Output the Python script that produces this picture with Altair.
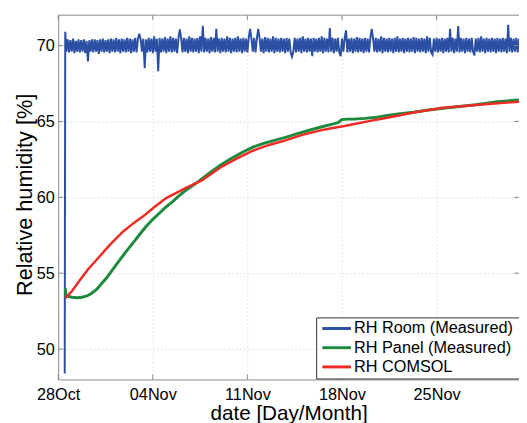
import altair as alt
import pandas as pd

# ---- data (days after 28 Oct 2012 00:00 UTC) ----
blue_lead_days = [0.48, 0.52]
blue_lead_vals = [48.4, 70.9]
blue_start = 0.6
blue_step = 0.1
blue_vals = [
    69.6, 70.4, 69.55, 70.35, 69.6, 70.45, 69.5, 70.3, 69.6, 70.4, 69.55, 70.35, 69.6, 70.4, 69.5, 70.3, 68.95, 70.35, 69.6, 70.4,
    69.55, 70.4, 69.6, 70.35, 69.45, 70.4, 69.6, 70.45, 69.55, 70.35, 69.6, 70.4, 69.5, 70.45, 69.6, 70.4, 69.55, 70.5, 69.6, 70.4,
    69.5, 70.45, 69.6, 70.4, 69.55, 70.5, 69.6, 70.45, 69.5, 70.4, 69.6, 70.5, 69.55, 70.45, 70.78, 70.4, 69.6, 70.45, 68.5, 70.4,
    69.55, 70.5, 69.6, 70.45, 69.5, 70.6, 69.6, 70.45, 68.3, 70.5, 69.55, 70.45, 69.6, 70.55, 69.5, 70.45, 69.6, 70.6, 69.55, 70.5,
    69.6, 70.45, 69.5, 70.5, 71.07, 70.45, 69.55, 70.5, 69.6, 70.45, 69.5, 70.6, 69.6, 70.5, 69.55, 70.45, 69.6, 70.5, 69.5, 70.6,
    69.6, 71.3, 69.55, 70.5, 69.6, 70.45, 69.5, 70.55, 69.6, 70.5, 69.55, 71.1, 69.6, 70.45, 69.5, 70.5, 69.6, 70.45, 69.55, 70.6,
    69.6, 70.5, 69.5, 70.45, 69.6, 70.5, 69.55, 70.6, 69.6, 70.45, 69.5, 70.5, 69.6, 70.45, 69.55, 70.5, 71.1, 70.45, 69.6, 70.5,
    69.55, 70.45, 71.1, 70.5, 69.6, 70.45, 69.5, 70.55, 69.6, 70.5, 69.55, 70.45, 69.6, 70.6, 69.5, 70.5, 69.6, 70.45, 69.55, 70.5,
    69.6, 70.45, 69.5, 70.5, 69.6, 70.45, 69.55, 69.26, 69.6, 70.5, 69.55, 70.45, 69.6, 70.5, 69.5, 70.6, 69.6, 70.45, 69.55, 70.5,
    69.6, 70.45, 69.3, 70.5, 69.6, 70.45, 69.55, 70.5, 69.6, 70.6, 69.5, 70.5, 69.6, 70.45, 69.55, 71.15, 69.6, 70.5, 69.5, 70.45,
    69.6, 70.5, 69.55, 69.3, 70.45, 69.6, 70.5, 71.0, 69.55, 70.45, 69.6, 70.5, 69.5, 70.45, 69.6, 70.55, 69.55, 70.5, 69.6, 70.45,
    69.5, 70.5, 69.6, 70.45, 69.55, 70.5, 71.1, 70.45, 69.6, 70.5, 69.55, 70.45, 69.6, 70.6, 69.5, 70.5, 69.6, 70.45, 69.55, 70.5,
    69.6, 70.45, 69.5, 70.5, 69.6, 70.6, 69.55, 70.45, 69.6, 70.5, 69.5, 70.45, 69.6, 70.5, 69.55, 70.45, 69.6, 70.55, 69.5, 70.5,
    69.6, 70.45, 69.55, 70.5, 69.6, 70.45, 69.5, 70.6, 69.6, 70.5, 69.55, 69.4, 70.45, 69.6, 70.5, 69.55, 70.45, 69.6, 70.5, 69.5,
    70.45, 69.6, 70.5, 69.55, 71.1, 69.6, 70.5, 69.5, 70.45, 69.6, 71.28, 69.55, 70.5, 69.6, 70.45, 69.5, 70.5, 69.6, 70.45, 69.55,
    70.5, 69.6, 69.35, 70.45, 69.6, 70.5, 69.55, 70.6, 69.6, 70.45, 69.5, 70.5, 69.6, 70.45, 69.55, 70.5, 69.6, 70.45, 69.5, 70.5,
    69.6, 70.45, 69.55, 70.5, 69.6, 70.45, 69.5, 71.37, 69.6, 70.5, 69.55, 70.45, 69.6, 70.5, 69.55, 70.45,
]

green_days = [0.52, 0.58, 0.70, 1.02, 1.41, 1.75, 2.13, 2.48, 2.86, 3.20,
              3.59, 4.08, 4.57, 5.05, 5.54, 6.02, 6.50, 7.00, 7.48, 7.96,
              8.45, 8.93, 9.42, 9.90, 10.39, 11.2, 11.97, 12.8, 13.6, 14.40,
              15.2, 16.0, 16.82, 17.7, 18.52, 19.1, 19.74, 20.3, 20.71, 20.98,
              21.4, 21.92, 22.7, 23.6, 24.35, 25.3, 26.3, 27.4, 28.48, 29.7,
              30.88, 32.5, 34.09]
green_vals = [54.0, 53.5, 53.48, 53.42, 53.38, 53.42, 53.5, 53.68, 53.95, 54.3,
              54.7, 55.3, 55.9, 56.45, 57.0, 57.55, 58.08, 58.55, 58.95, 59.35,
              59.7, 60.1, 60.45, 60.75, 61.05, 61.6, 62.1, 62.55, 62.95, 63.3,
              63.55, 63.75, 63.95, 64.2, 64.4, 64.55, 64.7, 64.82, 64.92, 65.12,
              65.15, 65.15, 65.2, 65.28, 65.4, 65.5, 65.6, 65.75, 65.86, 65.98,
              66.1, 66.3, 66.42]

red_days = [0.52, 1.0, 1.65, 2.2, 2.86, 3.8, 4.81, 5.5, 6.26, 7.1,
            7.96, 8.7, 9.42, 10.63, 11.97, 13.2, 14.40, 15.6, 16.82, 18.0,
            19.25, 20.2, 21.19, 22.0, 23.2, 24.35, 26.4, 28.48, 30.5, 32.3, 34.1]
red_vals = [53.35, 53.8, 54.6, 55.25, 55.9, 56.85, 57.75, 58.25, 58.73, 59.35,
            59.93, 60.28, 60.6, 61.12, 61.95, 62.55, 63.07, 63.45, 63.75, 64.1,
            64.38, 64.55, 64.7, 64.85, 65.05, 65.24, 65.6, 65.9, 66.05, 66.18, 66.3]

series_names = ["RH Room (Measured)", "RH Panel (Measured)", "RH COMSOL"]
series_colors = ["#2a4fa3", "#1d8a3e", "#ee2b24"]

x_tick_days = [0, 7, 14, 21, 28]
x_tick_labels = ["28Oct", "04Nov", "11Nov", "18Nov", "25Nov"]
y_ticks = [50, 55, 60, 65, 70]
x_domain_days = [0, 34.1]
y_domain = [48, 72]

# ---- helpers ----
T0 = pd.Timestamp("2012-10-28", tz="UTC")


def to_iso(d):
    return (T0 + pd.to_timedelta(d, unit="D")).strftime("%Y-%m-%dT%H:%M:%SZ")


def to_ms(d):
    return int((T0 + pd.to_timedelta(d, unit="D")).value // 1_000_000)


blue_days = blue_lead_days + [blue_start + blue_step * i for i in range(len(blue_vals))]
blue_all = blue_lead_vals + blue_vals

df_blue = pd.DataFrame({"t": [to_iso(d) for d in blue_days], "v": blue_all, "s": series_names[0]})
df_green = pd.DataFrame({"t": [to_iso(d) for d in green_days], "v": green_vals, "s": series_names[1]})
df_red = pd.DataFrame({"t": [to_iso(d) for d in red_days], "v": red_vals, "s": series_names[2]})
df_xt = pd.DataFrame({"t": [to_iso(d) for d in x_tick_days]})
df_yt = pd.DataFrame({"v": y_ticks})
df_one = pd.DataFrame({"a": [0]})

tick_ms = [to_ms(d) for d in x_tick_days]
label_expr = " : ".join(
    f"abs(time(datum.value) - {m}) < 1000 ? '{lab}'" for m, lab in zip(tick_ms, x_tick_labels)
) + " : ''"

W, H = 468, 370
FONT = "Liberation Sans"
AX = "#8a8a8a"
GRID = "#e2e2e2"

xscale = alt.Scale(type="utc", domain=[to_ms(d) for d in x_domain_days], nice=False)
yscale = alt.Scale(domain=y_domain, nice=False, zero=False)

X = alt.X(
    "t:T",
    scale=xscale,
    axis=alt.Axis(
        values=tick_ms, labelExpr=label_expr,
        labelFontSize=16.5, labelFont=FONT, labelColor="black", labelPadding=7,
        labelFlush=False, labelOverlap=False, ticks=False,
        domainColor=AX, domainWidth=1,
        grid=True, gridColor=GRID, gridDash=[2, 2], gridWidth=1,
        title="date [Day/Month]", titleFont=FONT, titleFontSize=21,
        titleFontWeight="normal", titleColor="black", titleY=24, titleBaseline="top",
    ),
)
Y = alt.Y(
    "v:Q",
    scale=yscale,
    axis=alt.Axis(
        values=y_ticks, labelFontSize=16.5, labelFont=FONT, labelColor="black",
        labelPadding=4, ticks=False, domainColor=AX, domainWidth=1,
        grid=True, gridColor=GRID, gridDash=[2, 2], gridWidth=1,
        title="Relative humidity [%]", titleFont=FONT, titleFontSize=22,
        titleFontWeight="normal", titleColor="black",
        titleX=-27, titleY=182, titleBaseline="alphabetic", titleAngle=270,
    ),
)
C = alt.Color(
    "s:N",
    scale=alt.Scale(domain=series_names, range=series_colors),
    legend=alt.Legend(
        title="\u00a0", titleOrient="right", titlePadding=14, titleFontSize=10,
        orient="none", legendX=262, legendY=307,
        symbolType="M-2.9,0L2.9,0", symbolSize=100, symbolStrokeWidth=3,
        symbolOffset=9.5, labelOffset=9.5, labelLimit=400,
        labelFontSize=16.5, labelFont=FONT, labelColor="black",
        padding=3, rowPadding=2.5, strokeColor="#333333", fillColor="white",
    ),
)

blue = alt.Chart(df_blue).mark_line(strokeWidth=2, clip=True).encode(x=X, y=Y, color=C)
green = alt.Chart(df_green).mark_line(strokeWidth=3, clip=True).encode(x=X, y=Y, color=C)
red = alt.Chart(df_red).mark_line(strokeWidth=2.5, clip=True).encode(x=X, y=Y, color=C)

xt_bottom = alt.Chart(df_xt).mark_rule(color=AX).encode(x="t:T", y=alt.value(H), y2=alt.value(H - 5))
xt_top = alt.Chart(df_xt).mark_rule(color=AX).encode(x="t:T", y=alt.value(0), y2=alt.value(5))
yt_left = alt.Chart(df_yt).mark_rule(color=AX).encode(y="v:Q", x=alt.value(0), x2=alt.value(5))
yt_right = alt.Chart(df_yt).mark_rule(color=AX).encode(y="v:Q", x=alt.value(W - 5), x2=alt.value(W))
top_border = alt.Chart(df_one).mark_rule(color=AX).encode(x=alt.value(0), x2=alt.value(W), y=alt.value(0))

chart = alt.layer(
    blue, green, red, xt_bottom, xt_top, yt_left, yt_right, top_border
).properties(
    width=W, height=H,
    autosize=alt.AutoSizeParams(type="none"),
    padding={"left": 51, "top": 4, "right": 0, "bottom": 45},
    background="white",
).configure_view(stroke=None)

chart.save("out.html", embed_options={"renderer": "svg", "actions": False})
